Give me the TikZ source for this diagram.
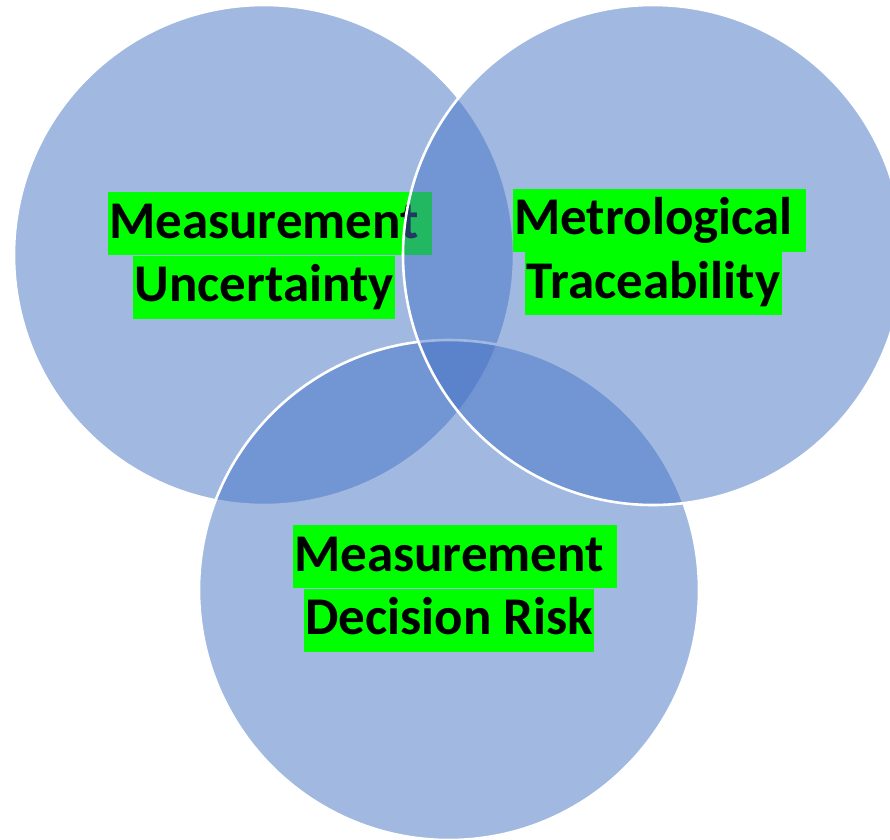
\documentclass[tikz,border=0pt]{standalone}
\usepackage{fontspec}
\setmainfont{Carlito}
\usepackage{tikz}
\usetikzlibrary{positioning}
\definecolor{vennblue}{RGB}{68,114,196}
\definecolor{hlgreen}{RGB}{0,255,0}
\tikzset{
    venn/.style={
           circle,
           fill=vennblue, fill opacity=0.5,
           draw=white, line width=2.6pt,
           minimum size=500pt,
           inner sep=0pt},
    hl/.style={
           rectangle,
           fill=hlgreen,
           inner xsep=1.5pt, inner ysep=0pt,
           text height=46pt,
           text depth=17pt,
           font=\fontsize{53}{64}\selectfont\bfseries},% highlighted line of text
    hlsp/.style={hl, xshift=6pt}% line ending in a space
    }

\begin{document}
\begin{tikzpicture}[x=1pt,y=-1pt]
\useasboundingbox (0,0) rectangle (890,839);
\node[venn] (cl) at (264,255) {};
\node[hl] (mu2) at (264,287) {Uncertainty};
\node[hlsp, above=0pt of mu2] (mu1) {Measurement\ \mbox{}};
\node[venn] (cb) at (449,590) {};
\node[venn] (cr) at (653,255) {};
\node[hl] (mt2) at (653.5,283.5) {Traceability};
\node[hlsp, above=0pt of mt2] (mt1) {Metrological\ \mbox{}};
\node[hl] (md2) at (449,620) {Decision Risk};
\node[hlsp, above=0pt of md2] (md1) {Measurement\ \mbox{}};
\end{tikzpicture}
\end{document}
